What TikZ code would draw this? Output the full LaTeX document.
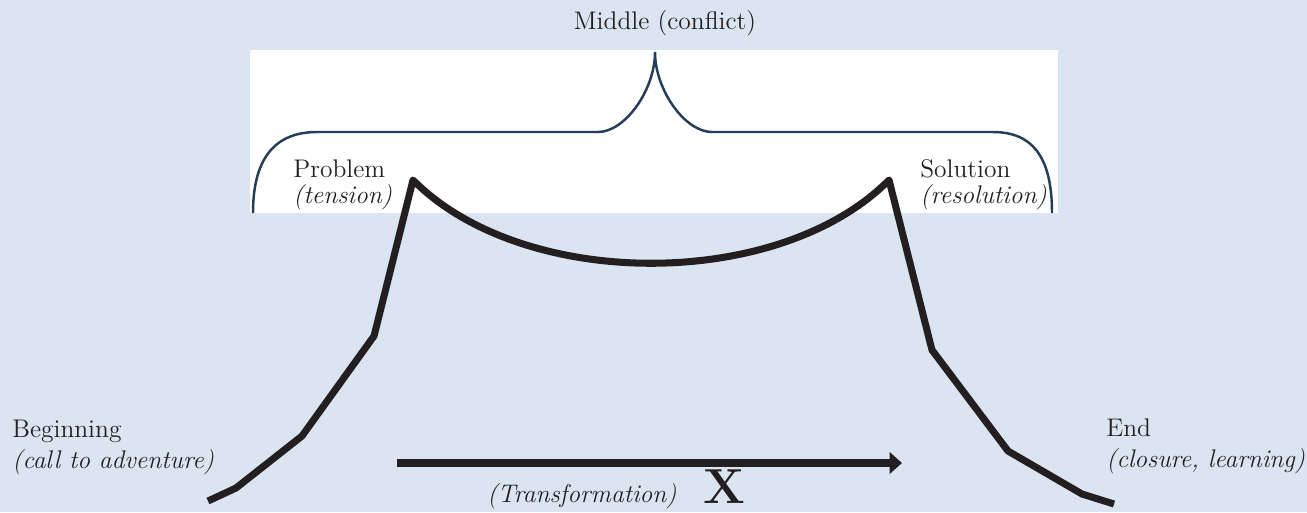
\documentclass[tikz,border=0pt]{standalone}
\usepackage{fontspec}
\usepackage{xcolor}
\usetikzlibrary{arrows.meta}

\definecolor{paleblue}{HTML}{DBE5F1}
\definecolor{bracecol}{HTML}{243D58}
\definecolor{inkblack}{HTML}{231F20}

\begin{document}
\begin{tikzpicture}[
    x=0.02cm, y=-0.02cm,
    font=\fontsize{14.5}{17.6}\selectfont,
    txt/.style={
        inner sep=0pt,
        align=left,
        anchor=base west,
        text=inkblack
    },
    tighttxt/.style={txt, font=\fontsize{14.5}{14.8}\selectfont},
    storyline/.style={line width=4pt, line join=round, inkblack},
    bracket/.style={line width=1.4pt, bracecol},
    arrow/.style={-{Triangle[length=7pt,width=12pt]}, line width=4.5pt, inkblack}
]
\useasboundingbox (0,0) rectangle (1307,512);
\fill[paleblue] (0,0) rectangle (1307,512);
\fill[white] (250,50) rectangle (1058,213);

% brace over the middle part
\draw[bracket] (253,213) .. controls (253,162) and (272,132) .. (317,132)
    -- (598,132) .. controls (625,132) and (655,90) .. (655,52)
    .. controls (655,90) and (685,132) .. (712,132)
    -- (993,132) .. controls (1036,132) and (1052,162) .. (1052,213);

% story arc
\draw[storyline] (208,501) -- (236,488) -- (302,436) -- (374,336) -- (413,180)
    .. controls (523,291) and (779,291) .. (889,180)
    -- (932,350) -- (1008,451) -- (1082,494) -- (1114,504);

% base anchor sits on the last line
\node[txt, anchor=base] (middle) at (665,29) {Middle (conflict)};
\node[tighttxt] (problem) at (293,203) {Problem\\\textit{(tension)}};
\node[tighttxt] (solution) at (920,203) {Solution\\\textit{(resolution)}};
\node[txt] (begin) at (12,468) {Beginning\\\textit{(call to adventure)}};
\node[txt] (end) at (1106,467) {End\\\textit{(closure, learning)}};

\coordinate (tstart) at (397,463);
\coordinate (tend) at (902,463);
\draw[arrow] (tstart) -- (tend);
\node[txt, anchor=base] (transf) at (582,502) {\textit{(Transformation)}};
\node[txt, anchor=base] (xmark) at (724,503) {\fontsize{28}{30}\selectfont\bfseries X};
\end{tikzpicture}
\end{document}
